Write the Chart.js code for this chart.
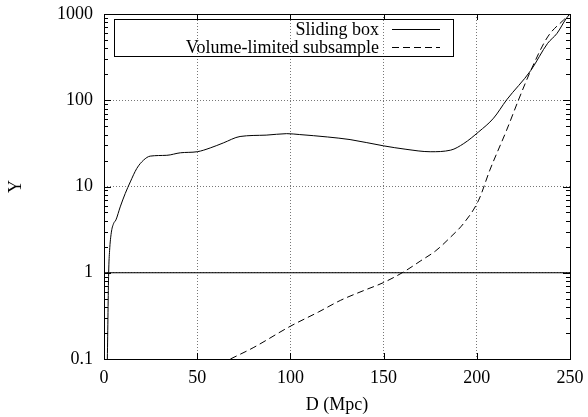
<!DOCTYPE html>
<html>
<head>
<meta charset="utf-8">
<script src="https://cdn.jsdelivr.net/npm/chart.js@4"></script>
<style>
  body { margin: 0; background: #fff; }
  #wrap { position: relative; width: 588px; height: 417px; }
  canvas { display: block; }
  #frame { position: absolute; border: 1px solid #000; box-sizing: border-box; pointer-events: none; }
</style>
</head>
<body>
<div id="wrap">
<canvas id="chart" width="588" height="417"></canvas>
<div id="frame"></div>
</div>
<script>
// Sliding box curve
const slidingD = [1.8, 2.5, 3, 3.9, 5.1, 6.4, 8.7, 11.4, 14.1, 17.6, 21.2, 24.8, 33.7, 41, 50, 57, 64, 73, 87, 98,
                  105, 120, 132, 150, 162, 175, 186, 193, 201, 209, 216, 229, 238, 243, 248, 250];
const slidingY = [0.1, 1, 1.8, 2.9, 3.7, 4.1, 5.8, 8.3, 11.3, 16.2, 20.2, 22.5, 23, 24.6, 25.3, 28, 32, 38, 39.4, 41,
                  40, 37.5, 35, 29.6, 27, 25.3, 26.4, 31.5, 43, 62, 101, 222, 457, 595, 888, 1000];

// Volume-limited subsample curve
const volumeD = [67.8, 80, 100, 115, 127, 140, 150, 161, 170, 178, 186, 193, 201, 207, 216, 223, 229, 238, 246.5, 250];
const volumeY = [0.1, 0.135, 0.24, 0.35, 0.48, 0.63, 0.77, 1.03, 1.38, 1.8, 2.6, 3.75, 6.95, 15.5, 45, 109, 222, 542, 850, 1000];

// reference line Y = 1
const unityD = [0, 250];
const unityY = [1, 1];

const xTicks = [0, 50, 100, 150, 200, 250];
const yTicks = [0.1, 1, 10, 100, 1000];

const FONT = "'Liberation Serif', 'Times New Roman', serif";
const FSIZE = 18;

const toPoints = (xs, ys) => xs.map((x, i) => ({ x: x, y: ys[i] }));

// frame with inward ticks (gnuplot style) and the legend box
const gnuPlugin = {
    id: "gnuDecor",
    afterDraw(chart) {
        const ctx = chart.ctx;
        const a = chart.chartArea;
        const sx = chart.scales.x, sy = chart.scales.y;
        const L = Math.round(a.left), R = Math.round(a.right);
        const T = Math.round(a.top), B = Math.round(a.bottom);

        // frame overlay follows the chart area
        const fr = document.getElementById("frame");
        fr.style.left = L + "px";
        fr.style.top = T + "px";
        fr.style.width = (R - L + 1) + "px";
        fr.style.height = (B - T + 1) + "px";

        ctx.save();
        ctx.strokeStyle = "#000";
        ctx.lineWidth = 1;
        ctx.setLineDash([]);
        ctx.beginPath();
        xTicks.forEach(v => {
            const px = Math.round(sx.getPixelForValue(v)) + 0.5;
            ctx.moveTo(px, B); ctx.lineTo(px, B - 6);
            ctx.moveTo(px, T); ctx.lineTo(px, T + 6);
        });
        yTicks.forEach(v => {
            const py = Math.round(sy.getPixelForValue(v)) + 0.5;
            ctx.moveTo(L, py); ctx.lineTo(L + 7, py);
            ctx.moveTo(R, py); ctx.lineTo(R - 7, py);
            if (v < 1000) {
                for (let m = 2; m <= 9; m++) {
                    const pm = Math.round(sy.getPixelForValue(v * m)) + 0.5;
                    ctx.moveTo(L, pm); ctx.lineTo(L + 4, pm);
                    ctx.moveTo(R, pm); ctx.lineTo(R - 4, pm);
                }
            }
        });
        ctx.stroke();

        // legend: text right aligned, line sample on the right
        const boxL = L + 10, boxT = T + 5, boxW = 339, rowH = 18;
        const shown = chart.data.datasets.filter(d => d.label);
        ctx.font = FSIZE + "px " + FONT;
        ctx.fillStyle = "#000";
        ctx.textAlign = "right";
        ctx.textBaseline = "middle";
        shown.forEach((d, i) => {
            const y = boxT + 10 + i * rowH;
            ctx.fillText(d.label, boxL + 265, y + 1);
            ctx.strokeStyle = d.borderColor;
            ctx.setLineDash(d.borderDash || []);
            ctx.beginPath();
            ctx.moveTo(boxL + 278, y + 0.5);
            ctx.lineTo(boxL + 326, y + 0.5);
            ctx.stroke();
        });
        ctx.setLineDash([]);
        ctx.strokeStyle = "#000";
        ctx.strokeRect(boxL + 0.5, boxT + 0.5, boxW, 37);
        ctx.restore();
    }
};

const noPad = s => { s.paddingTop = 0; s.paddingBottom = 0; s.paddingLeft = 0; s.paddingRight = 0; };

new Chart(document.getElementById("chart"), {
    type: "line",
    data: {
        datasets: [
            {
                label: "Sliding box",
                data: toPoints(slidingD, slidingY),
                borderColor: "#000",
                borderWidth: 1,
                pointRadius: 0,
                cubicInterpolationMode: "monotone"
            },
            {
                label: "Volume-limited subsample",
                data: toPoints(volumeD, volumeY),
                borderColor: "#000",
                borderWidth: 1,
                borderDash: [7, 4],
                pointRadius: 0,
                cubicInterpolationMode: "monotone"
            },
            {
                label: "",
                data: toPoints(unityD, unityY),
                borderColor: "#000",
                borderWidth: 1,
                pointRadius: 0
            }
        ]
    },
    options: {
        responsive: false,
        animation: false,
        devicePixelRatio: 1,
        layout: { padding: { top: 14, right: 18, left: 0, bottom: 0 } },
        plugins: {
            legend: { display: false },
            tooltip: { enabled: false }
        },
        scales: {
            x: {
                type: "linear",
                min: 0,
                max: 250,
                afterBuildTicks: s => { s.ticks = xTicks.map(v => ({ value: v })); },
                afterFit: s => { s.height = 58; noPad(s); },
                ticks: { color: "#000", font: { family: FONT, size: FSIZE }, padding: 8, maxRotation: 0 },
                grid: { color: "#777", drawTicks: false, lineWidth: 1 },
                border: { display: false, dash: [1, 2] },
                title: { display: true, text: "D (Mpc)", color: "#000", font: { family: FONT, size: FSIZE }, padding: { top: 0, bottom: 1 } }
            },
            y: {
                type: "logarithmic",
                min: 0.1,
                max: 1000,
                afterBuildTicks: s => { s.ticks = yTicks.map(v => ({ value: v })); },
                afterFit: s => { s.width = 104; noPad(s); },
                ticks: { color: "#000", font: { family: FONT, size: FSIZE }, padding: 11, callback: v => String(v) },
                grid: { color: "#777", drawTicks: false, lineWidth: 1 },
                border: { display: false, dash: [1, 2] },
                title: { display: true, text: "Y", color: "#000", font: { family: FONT, size: FSIZE }, padding: { top: 5, bottom: 0 } }
            }
        }
    },
    plugins: [gnuPlugin]
});
</script>
</body>
</html>
